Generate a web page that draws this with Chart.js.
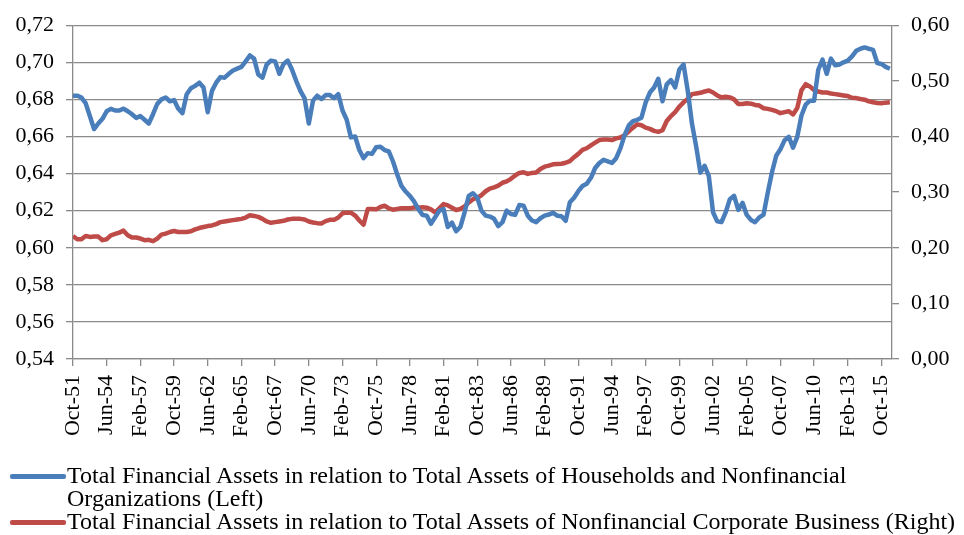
<!DOCTYPE html>
<html>
<head>
<meta charset="utf-8">
<script src="https://cdn.jsdelivr.net/npm/chart.js@4"></script>
<style>
  body { margin: 0; background: #fff; }
  #wrap { position: relative; width: 964px; height: 535px; }
  #legend { position: absolute; left: 10px; top: 464px; width: 954px;
            font-family: 'Liberation Serif', 'Times New Roman', serif; font-size: 24px; color: #000; }
  .item { display: flex; align-items: flex-start; line-height: 23px; }
  .sw { flex: none; width: 56px; height: 5px; margin-top: 10px; margin-right: 1px; border-radius: 2px; }
  .txt { width: 895px; white-space: normal; }
</style>
</head>
<body>
<div id="wrap">
  <canvas id="chart"></canvas>
  <div id="legend"></div>
</div>
<script>
// readings every 4 months, starting Oct-51
const monthStep = 4;
const tickLabels = ['Oct-51','Jun-54','Feb-57','Oct-59','Jun-62','Feb-65','Oct-67','Jun-70','Feb-73',
  'Oct-75','Jun-78','Feb-81','Oct-83','Jun-86','Feb-89','Oct-91','Jun-94','Feb-97','Oct-99',
  'Jun-02','Feb-05','Oct-07','Jun-10','Feb-13','Oct-15'];

// Households and Nonfinancial Organizations (left axis)
const households = [
  0.682,0.682,0.681,0.678,0.671,0.664,0.667,0.6695,0.6736,0.6749,
  0.674,0.674,0.675,0.6736,0.672,0.670,0.671,0.669,0.667,0.672,
  0.6775,0.680,0.681,0.679,0.6796,0.675,0.6726,0.6828,0.686,0.6873,
  0.689,0.6864,0.6731,0.6846,0.689,0.692,0.6917,0.6938,0.6956,0.6966,
  0.6975,0.7005,0.7037,0.702,0.6934,0.6917,0.6988,0.7009,0.7005,0.6938,
  0.6991,0.7009,0.6961,0.690,0.6846,0.6805,0.667,0.6793,0.682,0.6802,
  0.6823,0.6823,0.6807,0.6828,0.674,0.669,0.6595,0.660,0.6527,0.6483,
  0.651,0.6506,0.6542,0.6545,0.6527,0.6519,0.6465,0.6395,0.6333,0.6303,
  0.628,0.625,0.6209,0.6177,0.6173,0.6129,0.6164,0.620,0.6209,0.6112,
  0.6135,0.6089,0.6112,0.6191,0.628,0.6294,0.6271,0.620,0.6173,0.6168,
  0.6156,0.6117,0.6138,0.620,0.6182,0.6177,0.623,0.6227,0.6173,0.6147,
  0.6138,0.6159,0.6173,0.6179,0.6188,0.6173,0.617,0.6145,0.6245,0.627,
  0.6305,0.6333,0.6345,0.6377,0.643,0.6457,0.6474,0.6466,0.6457,0.6483,
  0.6536,0.6607,0.666,0.6683,0.669,0.6701,0.6784,0.6837,0.6864,0.6911,
  0.679,0.6881,0.6904,0.6864,0.6961,0.6988,0.6846,0.6669,0.6545,0.6405,
  0.6442,0.6386,0.6191,0.6142,0.6138,0.6191,0.6262,0.628,0.6204,0.6242,
  0.6177,0.615,0.6138,0.6164,0.6179,0.6297,0.6407,0.6496,0.6531,0.658,
  0.6598,0.654,0.6598,0.6713,0.6772,0.6793,0.6793,0.6961,0.7014,0.6938,
  0.702,0.6984,0.6988,0.700,0.7009,0.7032,0.7062,0.7073,0.708,0.7073,
  0.7067,0.6996,0.6991,0.6975,0.6965
];

// Nonfinancial Corporate Business (right axis)
const corporate = [
  0.221,0.2153,0.2153,0.2212,0.2195,0.22,0.22,0.2136,0.2153,0.2224,
  0.2248,0.2271,0.2307,0.2224,0.2183,0.2183,0.2165,0.2136,0.2142,0.2118,
  0.2165,0.2236,0.2254,0.2283,0.2301,0.2283,0.2283,0.2283,0.2295,0.233,
  0.2354,0.2372,0.2389,0.2401,0.2425,0.246,0.2472,0.2484,0.2496,0.2507,
  0.2519,0.2543,0.2584,0.2572,0.2555,0.2519,0.2472,0.2448,0.246,0.2472,
  0.2484,0.2507,0.2519,0.2519,0.2519,0.2507,0.2472,0.2454,0.2442,0.2437,
  0.2478,0.2501,0.2501,0.2543,0.2619,0.2631,0.2631,0.2578,0.249,0.2413,
  0.2696,0.2696,0.269,0.2732,0.2755,0.2708,0.2684,0.2696,0.2708,0.2708,
  0.2708,0.2726,0.272,0.2726,0.272,0.269,0.2637,0.2708,0.2785,0.2761,
  0.272,0.2678,0.2696,0.2743,0.2814,0.2873,0.2897,0.2944,0.3015,0.3062,
  0.3086,0.3115,0.3168,0.3192,0.3239,0.3298,0.3345,0.3357,0.3327,0.3345,
  0.3351,0.3416,0.3457,0.3475,0.3499,0.3504,0.351,0.3528,0.3558,0.3628,
  0.3687,0.3758,0.3788,0.3841,0.3888,0.3935,0.3947,0.3947,0.3935,0.3965,
  0.3982,0.4024,0.4094,0.4159,0.4218,0.4201,0.4159,0.4136,0.41,0.4083,
  0.4112,0.4277,0.4366,0.4437,0.4537,0.4614,0.4673,0.4761,0.4773,0.4785,
  0.4808,0.4826,0.479,0.4737,0.4702,0.4714,0.4702,0.4667,0.4584,0.4584,
  0.4596,0.459,0.4566,0.4555,0.4507,0.4496,0.4478,0.4454,0.4419,0.4437,
  0.4454,0.4395,0.4513,0.4832,0.494,0.490,0.4832,0.4808,0.479,0.479,
  0.4773,0.4761,0.4749,0.4737,0.4726,0.4696,0.469,0.4673,0.4661,0.4631,
  0.4614,0.4602,0.4596,0.4608,0.4614
];

const seriesNames = [
  'Total Financial Assets in relation to Total Assets of Households and Nonfinancial Organizations (Left)',
  'Total Financial Assets in relation to Total Assets of Nonfinancial Corporate Business (Right)'
];
const colors = ['#4a7ebb', '#be4b48'];

const serif = "'Liberation Serif', 'Times New Roman', serif";
const gridCol = '#8a8a8a';
const comma = (v, d) => v.toFixed(d).replace('.', ',');
const toPoints = arr => arr.map((v, i) => ({ x: i * monthStep, y: v }));

new Chart(document.getElementById('chart'), {
  type: 'line',
  data: {
    datasets: [
      { label: seriesNames[0], data: toPoints(households), yAxisID: 'yL',
        borderColor: colors[0], borderWidth: 4.5, pointRadius: 0, tension: 0, borderJoinStyle: 'round' },
      { label: seriesNames[1], data: toPoints(corporate), yAxisID: 'yR',
        borderColor: colors[1], borderWidth: 4.5, pointRadius: 0, tension: 0, borderJoinStyle: 'round' }
    ]
  },
  options: {
    responsive: true,
    maintainAspectRatio: false,
    animation: false,
    layout: { padding: { top: 20, left: 0, right: 0, bottom: 0 } },
    plugins: { legend: { display: false }, tooltip: { enabled: false } },
    scales: {
      x: {
        type: 'linear', min: 0, max: 778,
        grid: { drawOnChartArea: false, color: gridCol, lineWidth: 1.3, tickLength: 7 },
        border: { color: gridCol, width: 1.3 },
        ticks: { stepSize: 32, includeBounds: false, autoSkip: false, maxRotation: 90, minRotation: 90,
                 padding: 9, color: '#000', font: { family: serif, size: 22 },
                 callback: v => tickLabels[Math.round(v / 32)] ?? '' },
        afterFit: s => { s.height = 176; }
      },
      yL: {
        position: 'left', min: 0.54, max: 0.72,
        grid: { color: gridCol, lineWidth: 1.3, tickLength: 7 },
        border: { color: gridCol, width: 1.3 },
        ticks: { stepSize: 0.02, padding: 12, color: '#000', font: { family: serif, size: 22 },
                 callback: v => comma(v, 2) },
        afterFit: s => { s.width = 73; }
      },
      yR: {
        position: 'right', min: 0, max: 0.6,
        grid: { drawOnChartArea: false, color: gridCol, lineWidth: 1.3, tickLength: 7 },
        border: { color: gridCol, width: 1.3 },
        ticks: { stepSize: 0.1, padding: 12, color: '#000', font: { family: serif, size: 22 },
                 callback: v => comma(v, 2) },
        afterFit: s => { s.width = 72; }
      }
    }
  }
});

// legend below the plot
const legend = document.getElementById('legend');
seriesNames.forEach((name, i) => {
  const row = document.createElement('div');
  row.className = 'item';
  row.innerHTML = '<span class="sw" style="background:' + colors[i] + '"></span><span class="txt">' + name + '</span>';
  legend.appendChild(row);
});
</script>
</body>
</html>
